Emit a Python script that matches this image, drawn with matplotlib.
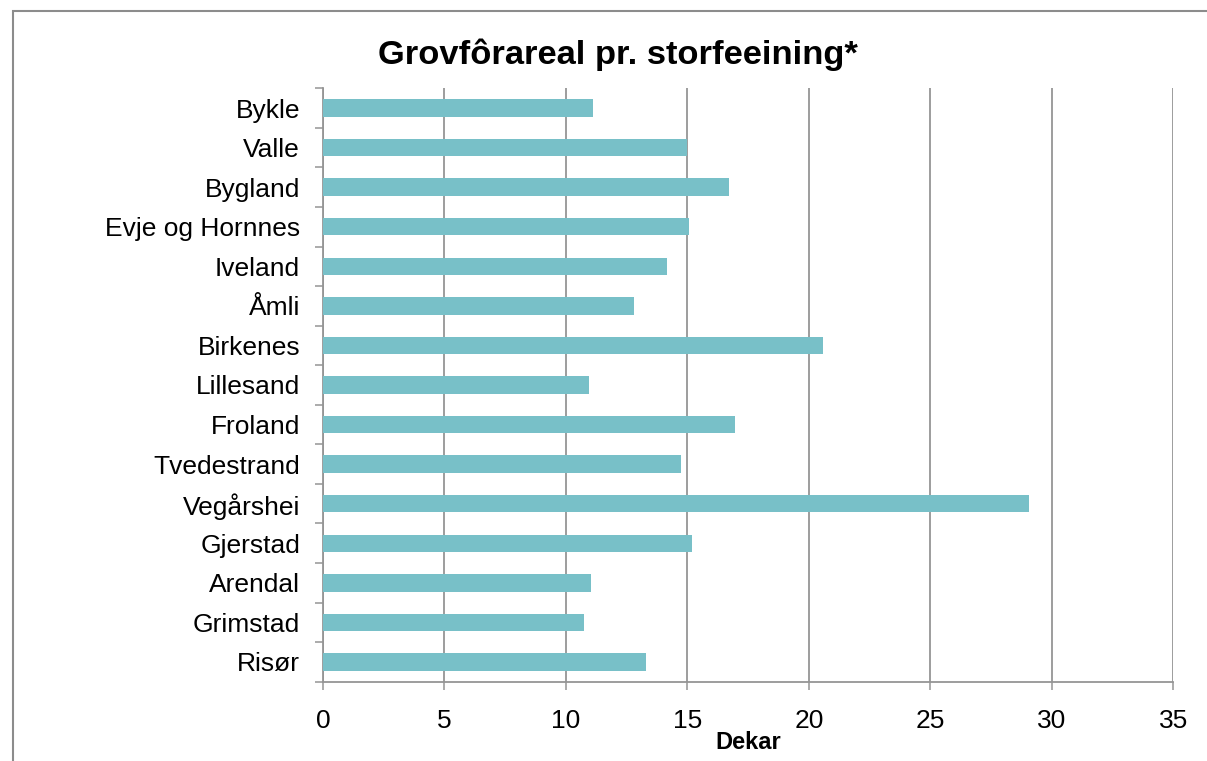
import matplotlib.pyplot as plt
from matplotlib.patches import Rectangle

plt.rcParams["font.family"] = ["Liberation Sans", "DejaVu Sans"]

kommuner = ["Bykle", "Valle", "Bygland", "Evje og Hornnes", "Iveland", "Åmli",
            "Birkenes", "Lillesand", "Froland", "Tvedestrand", "Vegårshei",
            "Gjerstad", "Arendal", "Grimstad", "Risør"]
dekar = [11.1, 15.0, 16.7, 15.05, 14.15, 12.8, 20.6, 10.95, 16.95, 14.75,
         29.05, 15.2, 11.05, 10.75, 13.3]
xticks = [0, 5, 10, 15, 20, 25, 30, 35]

grey = "#959595"

fig = plt.figure(figsize=(12.07, 7.61), dpi=100)
ax = fig.add_axes([0.2676, 0.1042, 0.7045, 0.7798])

ypos = list(range(len(kommuner)))
ax.barh(ypos, dekar, height=0.44, color="#78C0C8", zorder=3)

ax.set_xlim(0, 35)
ax.set_ylim(len(kommuner) - 0.5, -0.5)
ax.set_xticks(xticks)
ax.set_xticklabels([str(v) for v in xticks], fontsize=19)
ax.set_yticks(ypos)
ax.set_yticklabels(kommuner, fontsize=19)
ax.set_yticks([i - 0.5 for i in range(len(kommuner) + 1)], minor=True)

ax.tick_params(axis="y", which="major", length=0, pad=16.5)
ax.tick_params(axis="y", which="minor", length=6, width=1.1, color=grey)
ax.tick_params(axis="x", length=6, width=1.1, color=grey, pad=14)

ax.grid(axis="x", color=grey, linewidth=1.3, zorder=0)
for s in ["top", "right"]:
    ax.spines[s].set_visible(False)
for s in ["left", "bottom"]:
    ax.spines[s].set_color(grey)
    ax.spines[s].set_linewidth(1.3)

ax.set_xlabel("Dekar", fontsize=17, fontweight="bold", labelpad=-2)
fig.text(0.512, 0.928, "Grovfôrareal pr. storfeeining*", fontsize=24.8,
         fontweight="bold", ha="center", va="center")

fig.patches.append(Rectangle((13 / 1207, -0.5), 2, 1.5 - 11 / 761,
                             transform=fig.transFigure, fill=False,
                             edgecolor="#8c8c8c", linewidth=1.5))

fig.savefig("out.png", dpi=100)
